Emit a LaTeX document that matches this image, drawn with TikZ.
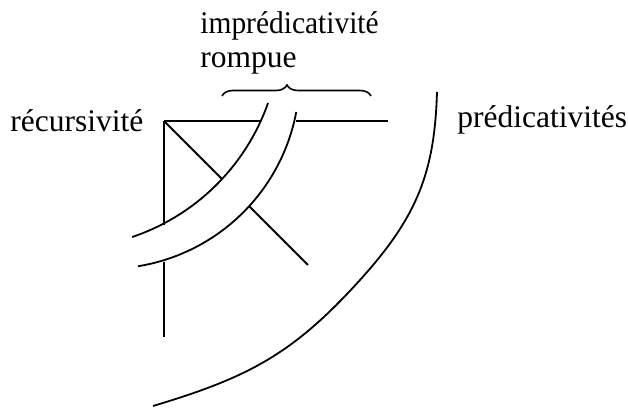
\documentclass[tikz,border=0pt]{standalone}
\usepackage{fontspec}
\setmainfont{Liberation Serif}
\usetikzlibrary{decorations.pathreplacing}
\begin{document}
\begin{tikzpicture}[x=0.5pt,y=-0.5pt,
  ln/.style={line width=0.9pt,line cap=butt},
  lbl/.style={inner sep=0pt,anchor=base west,font=\fontsize{15.75}{18}\selectfont}]
\useasboundingbox (0,0) rectangle (628,410);
% labels
\node[lbl] (rec) at (10,132) {récursivité};
\node[lbl] (imp) at (200,34) {\scalebox{0.935}[1]{imprédicativité}};
\node[lbl] (rom) at (200,68) {rompue};
\node[lbl] (pred) at (457,128) {prédicativités};
% corner and lines
\coordinate (O) at (164,121);
\coordinate (H1) at (261,121);
\coordinate (H2) at (296,121);
\coordinate (H3) at (388,121);
\coordinate (V1) at (164,225);
\coordinate (V2) at (164,262);
\coordinate (V3) at (164,337);
\coordinate (D1) at (222,179);
\coordinate (D2) at (249,206);
\coordinate (D3) at (308,265);
\draw[ln] (O) -- (H1);
\draw[ln] (H2) -- (H3);
\draw[ln] (O) -- (V1);
\draw[ln] (V2) -- (V3);
\draw[ln] (O) -- (D1);
\draw[ln] (D2) -- (D3);
% band arcs (circular)
\draw[ln] plot[domain=19.4:71.4,samples=60,variable=\t] ({62.7+217.7*cos(\t)},{30.7+217.7*sin(\t)});
\draw[ln] plot[domain=10.7:80.8,samples=60,variable=\t] ({107.2+192.4*cos(\t)},{76.35+192.4*sin(\t)});
% big arc
\coordinate (A0) at (437,92);
\coordinate (A1) at (360,280);
\coordinate (A2) at (153,406);
\draw[ln] (A0) .. controls (434.6,172) and (417.6,216.4) .. (A1)
               .. controls (293,354) and (248.8,377.3) .. (A2);
% brace
\coordinate (BL) at (222,96);
\coordinate (BR) at (371,96);
\draw[line width=0.8pt,decorate,decoration={brace,amplitude=5.5pt,aspect=0.436}] (BL) -- (BR);
\end{tikzpicture}
\end{document}
